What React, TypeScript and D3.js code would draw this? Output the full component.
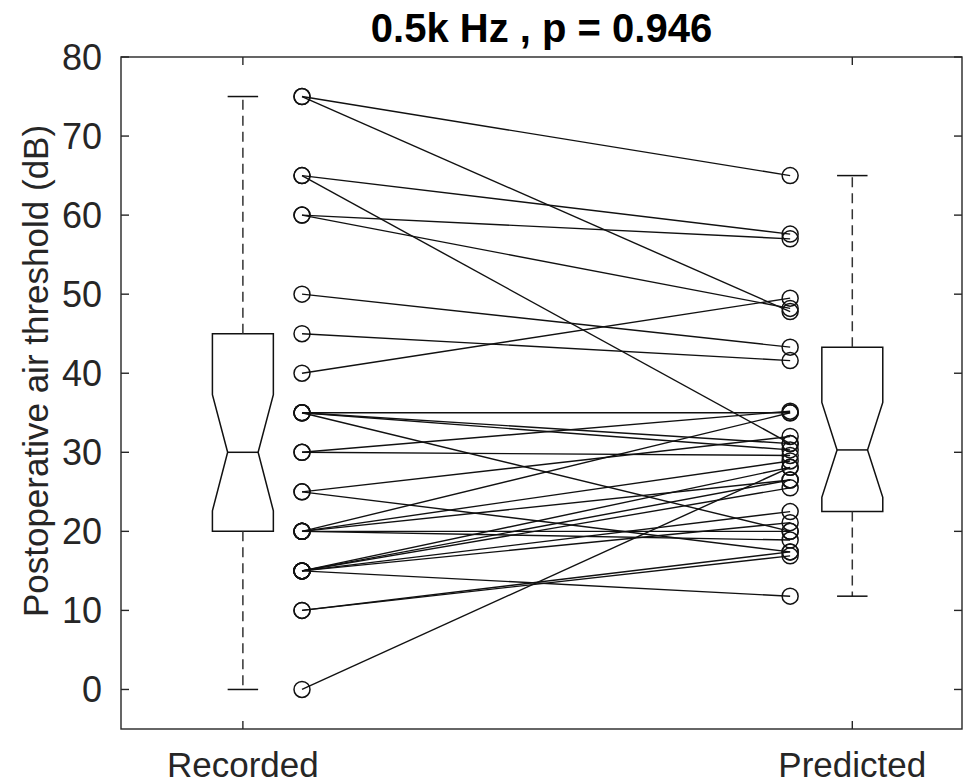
import React, { useEffect, useRef } from 'react'
import * as d3 from 'd3'

// paired thresholds (dB): recorded -> predicted
const recorded = [75, 75, 65, 65, 60, 60, 50, 45, 40, 35, 35, 35, 35, 30, 30, 25, 25, 20, 20, 20, 20, 20, 15, 15, 15, 15, 15, 15, 10, 10, 0]
const predicted = [65, 47.8, 57.6, 31.1, 57, 48.2, 43.3, 41.6, 49.5, 35, 31.1, 30.3, 20, 35.2, 29.6, 32, 17.4, 35, 28.9, 26.5, 20, 18.9, 28.1, 26.5, 25.5, 22.5, 21.1, 11.8, 17.4, 16.9, 28.1]

const groups = ['Recorded', 'Predicted']
// boxplot stats: [lowWhisker, q1, notchLo, median, notchHi, q3, highWhisker]
const recordedBox = [0, 20, 22.6, 30, 37.3, 45, 75]
const predictedBox = [11.8, 22.5, 24.3, 30.3, 36.3, 43.3, 65]
const yTicks = [0, 10, 20, 30, 40, 50, 60, 70, 80]

const W = 977
const H = 784
const M = { top: 57, right: 15, bottom: 55, left: 121 }
const FONT = '"Liberation Sans", Arial, Helvetica, sans-serif'

export default function App() {
  const ref = useRef<SVGSVGElement>(null)

  useEffect(() => {
    const svg = d3.select(ref.current)
    svg.selectAll('*').remove()

    const x = d3.scaleLinear().domain([0.8, 2.18]).range([M.left, W - M.right])
    const y = d3.scaleLinear().domain([-5, 80]).range([H - M.bottom, M.top])
    const axisColor = '#262626'
    const tick = 8

    // pair lines
    const g = svg.append('g')
    recorded.forEach((r, i) => {
      g.append('line')
        .attr('x1', x(1.097)).attr('y1', y(r))
        .attr('x2', x(1.898)).attr('y2', y(predicted[i]))
        .attr('stroke', '#111').attr('stroke-width', 1.4)
    })
    // circles
    const circ = (cx: number, v: number) =>
      g.append('circle').attr('cx', cx).attr('cy', y(v)).attr('r', 8)
        .attr('fill', 'none').attr('stroke', '#111').attr('stroke-width', 1.5)
    recorded.forEach(v => circ(x(1.097), v))
    predicted.forEach(v => circ(x(1.898), v))

    // boxplots
    const drawBox = (pos: number, s: number[]) => {
      const [lo, q1, nlo, med, nhi, q3, hi] = s
      const half = 0.05, nHalf = 0.025, cap = 0.025
      const b = svg.append('g').attr('fill', 'none').attr('stroke', '#111').attr('stroke-width', 1.5)
      const pts: [number, number][] = [
        [pos - half, q3], [pos + half, q3], [pos + half, nhi], [pos + nHalf, med],
        [pos + half, nlo], [pos + half, q1], [pos - half, q1], [pos - half, nlo],
        [pos - nHalf, med], [pos - half, nhi]
      ]
      b.append('path').attr('d', d3.line()(pts.map(p => [x(p[0]), y(p[1])])) + 'Z')
      b.append('line').attr('x1', x(pos - nHalf)).attr('x2', x(pos + nHalf))
        .attr('y1', y(med)).attr('y2', y(med))
      const dash = b.append('g').attr('stroke', '#333').attr('stroke-dasharray', '10,6')
      dash.append('line').attr('x1', x(pos)).attr('x2', x(pos)).attr('y1', y(q3)).attr('y2', y(hi))
      dash.append('line').attr('x1', x(pos)).attr('x2', x(pos)).attr('y1', y(q1)).attr('y2', y(lo))
      b.append('line').attr('x1', x(pos - cap)).attr('x2', x(pos + cap)).attr('y1', y(hi)).attr('y2', y(hi))
      b.append('line').attr('x1', x(pos - cap)).attr('x2', x(pos + cap)).attr('y1', y(lo)).attr('y2', y(lo))
    }
    drawBox(1, recordedBox)
    drawBox(2, predictedBox)

    // axes frame
    const [x0, x1] = x.range()
    const [y0, y1] = y.range()
    const ax = svg.append('g').attr('stroke', axisColor).attr('stroke-width', 1.4).attr('fill', 'none')
    ax.append('rect').attr('x', x0).attr('y', y1).attr('width', x1 - x0).attr('height', y0 - y1)
    yTicks.forEach(t => {
      ax.append('line').attr('x1', x0).attr('x2', x0 + tick).attr('y1', y(t)).attr('y2', y(t))
      ax.append('line').attr('x1', x1).attr('x2', x1 - tick).attr('y1', y(t)).attr('y2', y(t))
    })
    groups.forEach((_, i) => {
      ax.append('line').attr('x1', x(i + 1)).attr('x2', x(i + 1)).attr('y1', y0).attr('y2', y0 - tick)
      ax.append('line').attr('x1', x(i + 1)).attr('x2', x(i + 1)).attr('y1', y1).attr('y2', y1 + tick)
    })

    const txt = svg.append('g').attr('font-family', FONT).attr('fill', axisColor)
    yTicks.forEach(t => {
      txt.append('text').attr('x', x0 - 19).attr('y', y(t)).attr('dy', '0.36em')
        .attr('text-anchor', 'end').attr('font-size', 36).text(t)
    })
    groups.forEach((gname, i) => {
      txt.append('text').attr('x', x(i + 1)).attr('y', 777).attr('text-anchor', 'middle')
        .attr('font-size', 35).text(gname)
    })
    txt.append('text')
      .attr('transform', `translate(48,${(y0 + y1) / 2 - 22}) rotate(-90)`)
      .attr('text-anchor', 'middle').attr('font-size', 35)
      .text('Postoperative air threshold (dB)')
    svg.append('text').attr('x', (x0 + x1) / 2).attr('y', 42).attr('text-anchor', 'middle')
      .attr('font-family', FONT).attr('font-weight', 'bold').attr('font-size', 40).attr('fill', '#000')
      .text('0.5k Hz , p = 0.946')
  }, [])

  return (
    <svg ref={ref} width={W} height={H}
      style={{ position: 'absolute', left: 0, top: 0, background: '#fff' }} />
  )
}
